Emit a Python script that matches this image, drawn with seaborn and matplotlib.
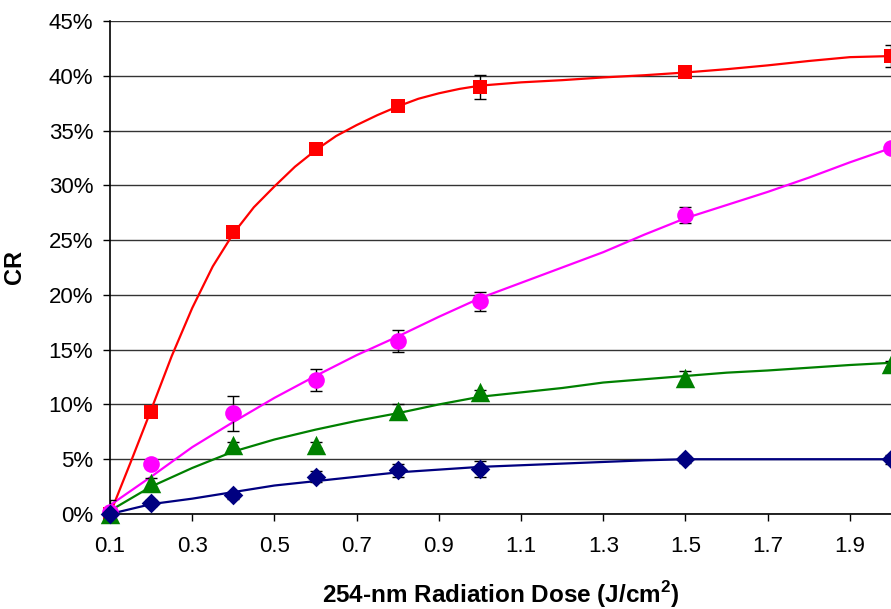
import matplotlib
matplotlib.use("Agg")
import matplotlib.pyplot as plt
import seaborn as sns
import pandas as pd
import numpy as np

# ---- data (values in %) ----
dose = [0.1, 0.2, 0.4, 0.6, 0.8, 1.0, 1.5, 2.0]

red_y = [0.0, 9.3, 25.7, 33.3, 37.2, 39.0, 40.3, 41.8]
red_err = [1.3, 0.3, 0.3, 0.3, 0.3, 1.1, 0.3, 1.0]
mag_y = [0.2, 4.6, 9.2, 12.2, 15.8, 19.4, 27.3, 33.4]
mag_err = [0.3, 0.3, 1.6, 1.0, 1.0, 0.9, 0.7, 0.4]
grn_y = [0.0, 2.8, 6.3, 6.3, 9.4, 11.1, 12.4, 13.7]
grn_err = [0.2, 0.5, 0.3, 0.3, 0.6, 0.2, 0.65, 0.3]
blu_y = [0.0, 1.0, 1.7, 3.4, 4.0, 4.1, 5.0, 5.0]
blu_err = [0.2, 0.3, 0.3, 0.5, 0.6, 0.7, 0.3, 0.4]

# fitted curves
red_cx = [0.1, 0.15, 0.2, 0.25, 0.3, 0.35, 0.4, 0.45, 0.5, 0.55, 0.6, 0.65, 0.7, 0.75,
          0.8, 0.85, 0.9, 0.95, 1.0, 1.1, 1.2, 1.3, 1.4, 1.5, 1.6, 1.7, 1.8, 1.9, 2.0]
red_cy = [0.0, 4.7, 9.5, 14.4, 18.8, 22.6, 25.6, 28.0, 29.9, 31.7, 33.2, 34.5, 35.5, 36.4,
          37.2, 37.9, 38.4, 38.8, 39.1, 39.4, 39.6, 39.85, 40.05, 40.3, 40.6, 40.95, 41.35, 41.7, 41.8]
cx = [0.1, 0.2, 0.3, 0.4, 0.5, 0.6, 0.7, 0.8, 0.9, 1.0, 1.1, 1.2, 1.3, 1.4, 1.5,
      1.6, 1.7, 1.8, 1.9, 2.0]
mag_cy = [0.8, 3.4, 6.1, 8.4, 10.6, 12.6, 14.5, 16.2, 18.0, 19.7, 21.1, 22.5, 23.9, 25.5, 27.0,
          28.2, 29.4, 30.7, 32.1, 33.4]
grn_cy = [0.3, 2.5, 4.2, 5.7, 6.8, 7.7, 8.5, 9.2, 10.0, 10.7, 11.1, 11.5, 12.0, 12.3, 12.6,
          12.9, 13.1, 13.35, 13.6, 13.8]
blu_cy = [0.0, 0.9, 1.4, 2.0, 2.6, 3.0, 3.4, 3.8, 4.05, 4.3, 4.45, 4.6, 4.75, 4.9, 5.0,
          5.0, 5.0, 5.0, 5.0, 5.0]

xticks = [0.1, 0.3, 0.5, 0.7, 0.9, 1.1, 1.3, 1.5, 1.7, 1.9]
yticks = [0, 5, 10, 15, 20, 25, 30, 35, 40, 45]

sns.set_theme(style="white")
plt.rcParams['font.family'] = ['Liberation Sans', 'DejaVu Sans']

fig = plt.figure(figsize=(8.91, 6.09), dpi=100)
ax = fig.add_axes([110 / 891, 1 - 514 / 609, 1 - 110 / 891, (514 - 21) / 609])

series = [
    (red_cx, red_cy, red_y, red_err, "#FF0000", "s", 10.5),
    (cx, mag_cy, mag_y, mag_err, "#FF00FF", "o", 12),
    (cx, grn_cy, grn_y, grn_err, "#008000", "^", 14),
    (cx, blu_cy, blu_y, blu_err, "#000080", "D", 10),
]

for cxs, cys, ys, errs, col, mk, ms in series:
    dfc = pd.DataFrame({"x": cxs, "y": cys})
    sns.lineplot(data=dfc, x="x", y="y", ax=ax, color=col, lw=1.6,
                 estimator=None, sort=False, zorder=3)
    ax.errorbar(dose, ys, yerr=errs, fmt="none", ecolor="black",
                elinewidth=1, capsize=4, capthick=1, zorder=4)
    dfp = pd.DataFrame({"x": dose, "y": ys})
    sns.scatterplot(data=dfp, x="x", y="y", ax=ax, color=col, marker=mk,
                    s=ms ** 2, edgecolor=col, linewidth=0, zorder=5, clip_on=False)

ax.set_xlim(0.1, 2.0)
ax.set_ylim(0, 45)
ax.set_yticks(yticks)
ax.set_yticklabels([f"{v}%" for v in yticks])
ax.set_xticks(xticks)
ax.set_xticklabels([f"{v:.1f}" for v in xticks])
ax.grid(axis="y", color="#333333", lw=1)
ax.grid(axis="x", visible=False)
ax.set_axisbelow(True)

for s in ["top", "right"]:
    ax.spines[s].set_visible(False)
for s in ["left", "bottom"]:
    ax.spines[s].set_color("black")
    ax.spines[s].set_linewidth(1.2)
    ax.spines[s].set_zorder(2)

ax.tick_params(axis="both", direction="out", length=5, width=1, color="black",
               labelsize=16, labelcolor="black", left=True, bottom=True)
ax.tick_params(axis="y", pad=7)
ax.tick_params(axis="x", pad=11)

ax.set_xlabel("254-nm Radiation Dose (J/cm$^\\mathregular{2}$)", fontsize=17.5,
              fontweight="bold", labelpad=16, color="black")
ax.set_ylabel("CR", fontsize=17, fontweight="bold", labelpad=16, color="black")

fig.savefig("out.png", dpi=100)
